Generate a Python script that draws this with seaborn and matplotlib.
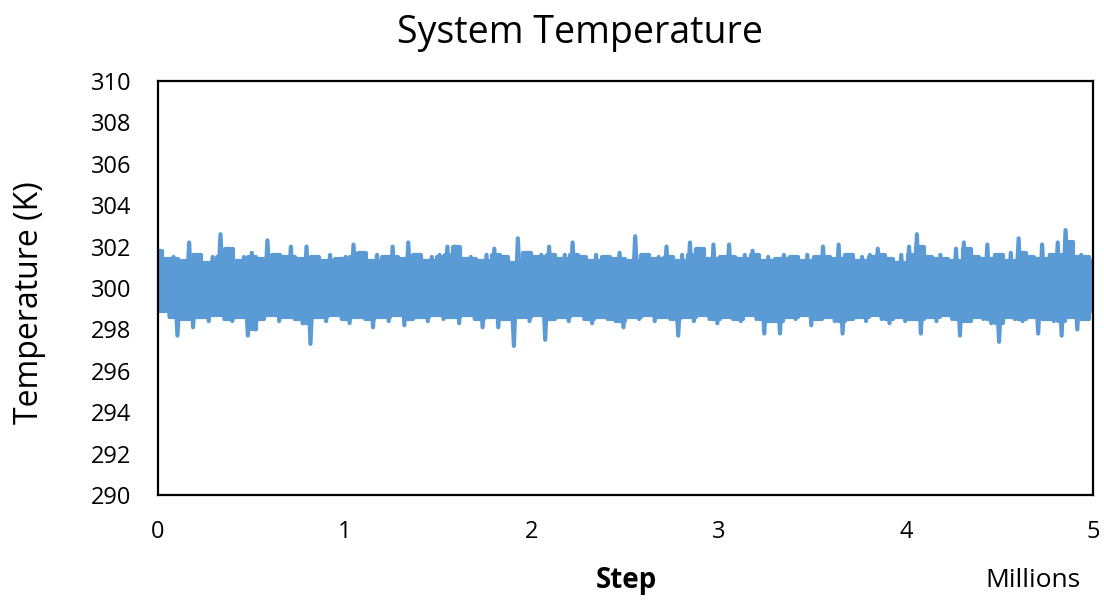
import numpy as np
import pandas as pd
import matplotlib
matplotlib.use("Agg")
import matplotlib.pyplot as plt
import seaborn as sns

# Upper and lower swing of the temperature trace
# (one pair every ~0.042 million steps)
upper_temp = [
    301.8, 301.4, 301.5, 301.3, 302.2, 301.6, 301.2, 301.5, 302.6, 301.9,
    301.3, 301.5, 301.7, 301.4, 302.3, 301.6, 301.5, 302.0, 301.4, 302.0,
    301.5, 301.3, 301.6, 301.4, 301.5, 302.1, 301.7, 301.3, 301.6, 301.5,
    302.0, 301.4, 302.2, 301.6, 301.3, 301.5, 301.6, 302.0, 302.0, 301.4,
    301.5, 301.3, 301.6, 301.9, 301.5, 301.2, 302.4, 301.7, 301.5, 301.6,
    302.0, 301.4, 301.6, 302.2, 301.5, 301.3, 301.6, 301.5, 301.4, 301.7,
    301.3, 302.5, 301.6, 301.4, 301.5, 302.0, 301.3, 301.6, 302.2, 301.9,
    301.4, 302.1, 301.5, 302.1, 301.4, 301.6, 301.8, 301.3, 301.5, 301.4,
    301.6, 301.5, 301.3, 301.6, 301.5, 302.0, 301.4, 302.1, 301.6, 301.3,
    301.5, 301.6, 301.9, 301.4, 301.2, 301.6, 302.0, 302.6, 301.5, 301.4,
    301.6, 301.3, 301.9, 302.2, 301.5, 301.4, 302.1, 301.6, 301.3, 301.7,
    302.4, 301.5, 301.4, 302.1, 301.6, 302.2, 302.8, 301.5, 301.6, 301.3,
]
lower_temp = [
    298.9, 298.6, 297.7, 298.5, 298.1, 298.6, 298.4, 298.7, 298.5, 298.4,
    298.6, 297.7, 298.0, 298.5, 298.7, 298.4, 298.6, 298.5, 298.3, 297.3,
    298.6, 298.4, 298.7, 298.5, 298.3, 298.6, 298.5, 298.1, 298.6, 298.4,
    298.7, 298.2, 298.5, 298.6, 298.4, 298.7, 298.5, 298.6, 298.3, 298.7,
    298.5, 298.1, 298.6, 298.1, 298.5, 297.2, 298.6, 298.4, 298.7, 297.5,
    298.5, 298.6, 298.4, 298.7, 298.5, 298.3, 298.6, 298.5, 298.4, 298.1,
    298.6, 298.5, 298.7, 298.4, 298.6, 298.5, 297.7, 298.6, 298.4, 298.7,
    298.5, 298.3, 298.6, 298.5, 298.4, 298.7, 298.5, 297.8, 298.4, 297.8,
    298.6, 298.5, 298.7, 298.2, 298.5, 298.6, 298.4, 297.8, 298.5, 298.6,
    298.4, 298.7, 298.5, 298.3, 298.6, 298.4, 298.5, 297.8, 298.6, 298.4,
    298.7, 298.5, 297.7, 298.4, 298.6, 298.5, 298.3, 297.4, 298.6, 298.5,
    298.4, 298.6, 297.8, 298.5, 298.4, 297.7, 298.6, 298.0, 298.5, 298.9,
]
y_ticks = [290, 292, 294, 296, 298, 300, 302, 304, 306, 308, 310]
x_ticks = [0, 1, 2, 3, 4, 5]

BLUE = "#5B9BD5"

# interleave the swings into one zig-zag trace
temps = [v for pair in zip(upper_temp, lower_temp) for v in pair]
steps = np.linspace(0, 5, len(temps))
df = pd.DataFrame({"step": steps, "temp": temps})

# solid core of the band: the lower of two neighbouring tops, the higher of
# two neighbouring bottoms
env = pd.DataFrame({"step": np.linspace(0, 5, len(upper_temp)),
                    "top": upper_temp, "bottom": lower_temp})
env["core_top"] = env["top"].rolling(2, min_periods=1).min()
env["core_bottom"] = env["bottom"].rolling(2, min_periods=1).max()

sns.set_style("white")
plt.rcParams["font.family"] = ["Open Sans", "DejaVu Sans"]
plt.rcParams["text.color"] = "black"

fig = plt.figure(figsize=(11.04, 6.0), dpi=100)
ax = fig.add_axes([0.143, 0.175, 0.847, 0.69])

ax.fill_between(env["step"], env["core_bottom"], env["core_top"],
                step="mid", color=BLUE, linewidth=0)
sns.lineplot(data=env, x="step", y="core_top", ax=ax, color=BLUE,
             linewidth=3, drawstyle="steps-mid")
sns.lineplot(data=env, x="step", y="core_bottom", ax=ax, color=BLUE,
             linewidth=3, drawstyle="steps-mid")
sns.lineplot(data=df, x="step", y="temp", ax=ax, color=BLUE,
             linewidth=3, sort=False)

ax.set_xlim(0, 5)
ax.set_ylim(290, 310)
ax.set_xticks(x_ticks)
ax.set_yticks(y_ticks)
ax.set_xticklabels([str(t) for t in x_ticks])
ax.set_yticklabels([str(t) for t in y_ticks])
ax.tick_params(axis="both", length=0, labelsize=17, colors="black")
ax.tick_params(axis="x", pad=18)
ax.tick_params(axis="y", pad=19)
for side in ax.spines.values():
    side.set_visible(True)
    side.set_color("black")
    side.set_linewidth(1.6)

ax.set_xlabel("")
ax.set_ylabel("")
fig.text(0.027, 0.495, "Temperature (K)", ha="center", va="center",
         rotation=90, fontsize=23, color="black")
fig.text(0.525, 0.945, "System Temperature", ha="center", va="center",
         fontsize=27, color="black")
fig.text(0.567, 0.033, "Step", ha="center", va="center", fontsize=20,
         fontweight="bold", color="black")
fig.text(0.936, 0.033, "Millions", ha="center", va="center", fontsize=19,
         color="black")

fig.savefig("out.png", dpi=100)
plt.close(fig)
